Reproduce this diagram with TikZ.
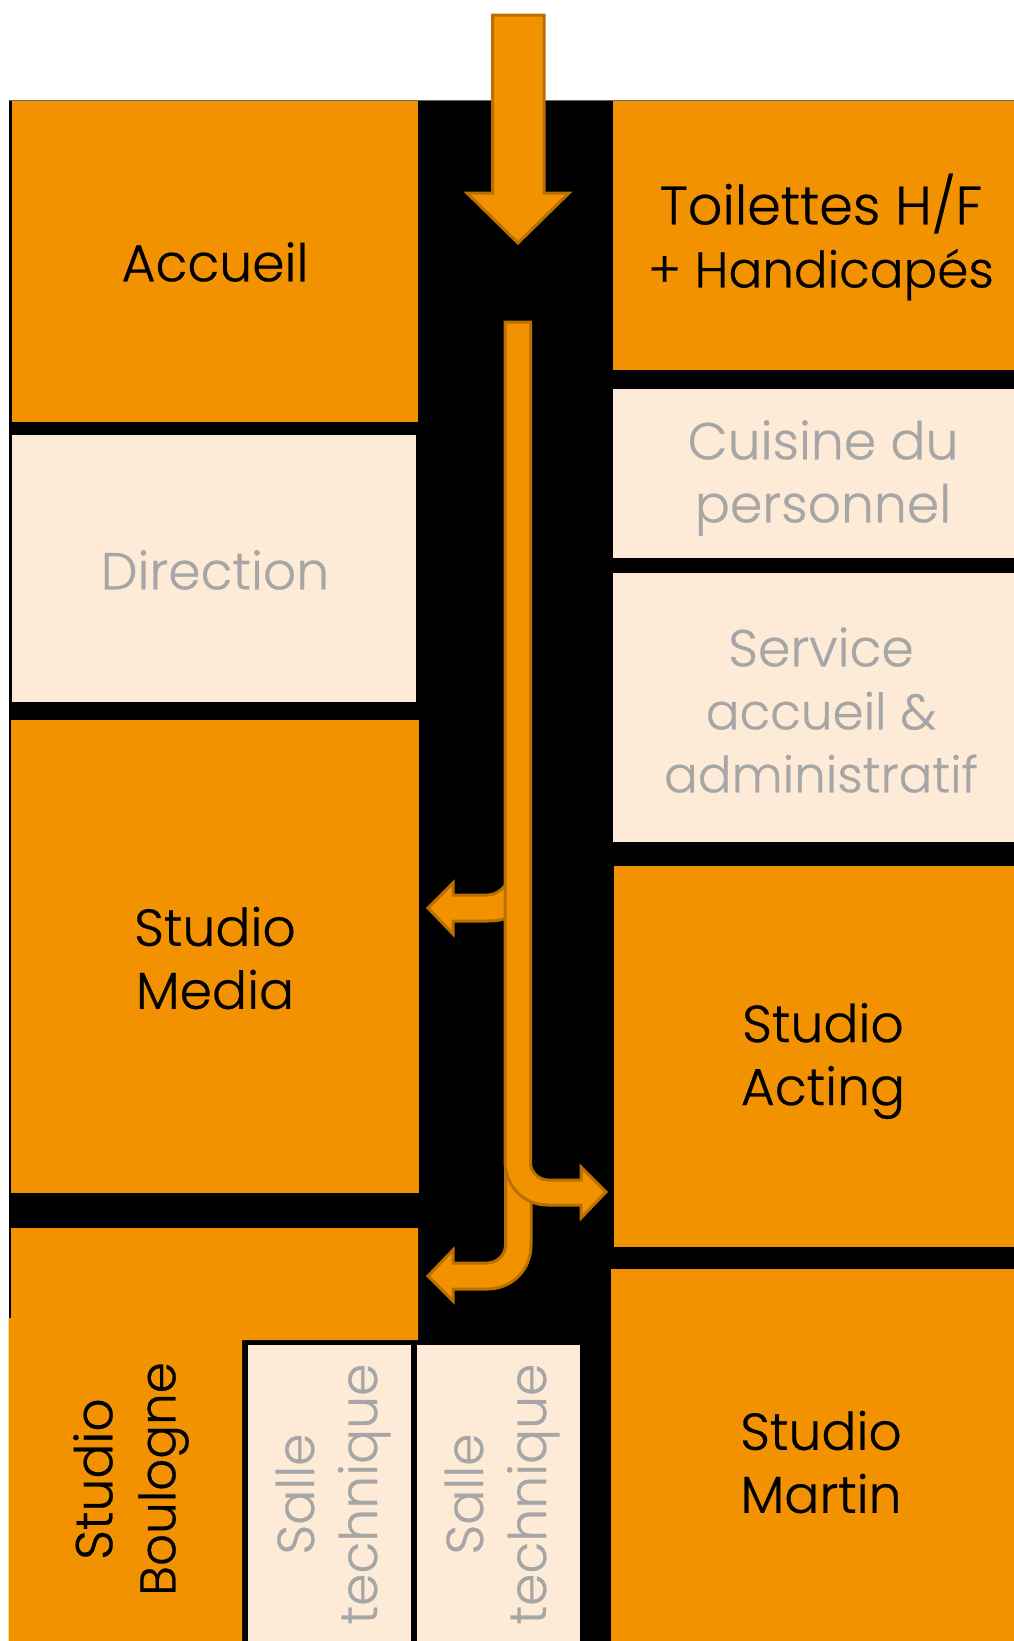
\documentclass[tikz,border=0pt]{standalone}
\usepackage{fontspec}
\setmainfont{Poppins Light}[FakeBold=0,RawFeature={embolden=0.5}]
\definecolor{orangeroom}{HTML}{F39200}
\definecolor{peachroom}{HTML}{FDEBD8}
\definecolor{greytext}{HTML}{A6A6A6}
\definecolor{arrowedge}{HTML}{B87000}
\definecolor{topline}{HTML}{666666}
\newcommand{\narrowline}[1]{{\fontsize{50}{63}\selectfont #1}}
\newcommand{\wideline}[1]{{\fontsize{54}{63}\selectfont #1}}
\tikzset{
  active/.style={fill=orangeroom,draw=none},
  passive/.style={fill=peachroom,draw=none},
  blockarrow/.style={fill=orangeroom,draw=arrowedge,line width=3pt,line join=miter},
  roomlabel/.style={inner sep=0pt,align=center,font=\fontsize{52}{63}\selectfont,text=black},
  greylabel/.style={roomlabel,text=greytext}
}
\begin{document}
\begin{tikzpicture}[x=1pt,y=-1pt]
\useasboundingbox (0,0) rectangle (1014,1641);
\fill[white] (0,0) rectangle (1014,1641);
\fill[black] (9,100) rectangle (1014,1318);
\fill[black] (242,1318) rectangle (1014,1641);
\draw[topline,line width=1pt] (9,100.5) -- (1014,100.5);
% rooms
\fill[active] (12,101) rectangle (418,422);
\fill[passive] (12,435) rectangle (416,702);
\fill[active] (10.5,720) rectangle (419,1193);
\fill[active] (11,1228) -- (418,1228) -- (418,1340) -- (242,1340) -- (242,1641) -- (8.5,1641) -- (8.5,1318) -- (11,1318) -- cycle;
\fill[passive] (248,1345) rectangle (411,1641);
\fill[passive] (417,1345) rectangle (580,1641);
\fill[active] (613,101) rectangle (1014,370);
\fill[passive] (613,389) rectangle (1014,558);
\fill[passive] (613,573) rectangle (1014,842);
\fill[active] (614,866) rectangle (1014,1247);
\fill[active] (611,1269) rectangle (1014,1641);
% labels
\node[roomlabel] (accueil) at (215,262) {Accueil};
\node[greylabel] (direction) at (215,570) {Direction};
\node[roomlabel] (media) at (215,958) {Studio\\Media};
\node[roomlabel] (toilettes) at (821,237) {\wideline{Toilettes H/F}\\\narrowline{+ Handicapés}};
\node[greylabel] (cuisine) at (823,478) {Cuisine du\\personnel};
\node[greylabel] (service) at (821,710) {Service\\\narrowline{accueil \&}\\\narrowline{administratif}};
\node[roomlabel] (acting) at (823,1061) {Studio\\Acting};
\node[roomlabel] (martin) at (821,1462) {Studio\\Martin};
\node[roomlabel,rotate=90] (boulogne) at (131,1479) {Studio\\\narrowline{Boulogne}};
\node[greylabel,rotate=90] (salleA) at (333,1494) {Salle\\technique};
\node[greylabel,rotate=90] (salleB) at (502,1494) {Salle\\technique};
% entrance arrow
\draw[blockarrow] (492.5,15) -- (544,15) -- (544,193) -- (569,193) -- (518,243) -- (467,193) -- (492.5,193) -- cycle;
% upper left branch
\draw[blockarrow] (510,878) .. controls (505,888) and (497,895) .. (487,895) -- (453,895) -- (453,883) -- (428,908) -- (453,934) -- (453,921) -- (487,921) .. controls (495,921) and (503,920) .. (510,917) -- cycle;
% lower left branch
\draw[blockarrow] (505.5,1165) -- (505.5,1245) .. controls (505.5,1255) and (497,1263) .. (487,1263) -- (453,1263) -- (453,1250) -- (428,1276) -- (453,1301) -- (453,1289) -- (487,1289) .. controls (512,1289) and (531,1270) .. (531,1245) -- (531,1195) -- cycle;
% main corridor with right branch
\draw[blockarrow] (505,322) -- (530.5,322) -- (530.5,1163) .. controls (530.5,1172) and (539,1180) .. (548,1180) -- (581,1180) -- (581,1167) -- (606,1192) -- (581,1218) -- (581,1205) -- (548,1205) .. controls (523,1205) and (505,1186) .. (505,1160) -- cycle;
\end{tikzpicture}
\end{document}
